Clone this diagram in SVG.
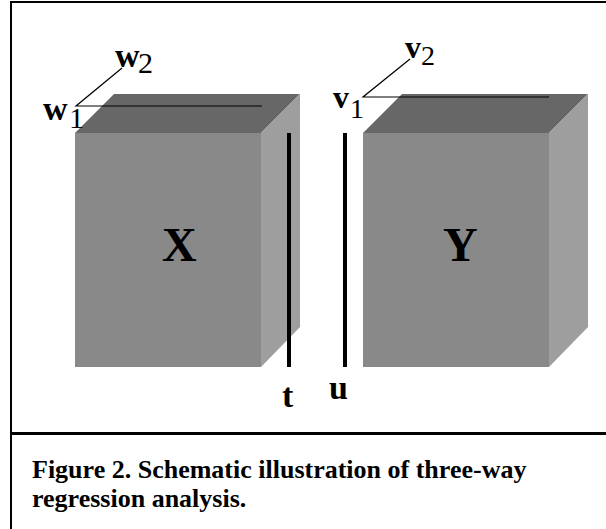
<svg xmlns="http://www.w3.org/2000/svg" width="606" height="529" viewBox="0 0 606 529">
<style>
.front{fill:#898989}
.top{fill:#676767}
.side{fill:#9e9e9e}
.thin{stroke:#000;stroke-width:1.2;fill:none}
.thick{stroke:#000;stroke-width:4;fill:none}
.frame{stroke:#000;fill:none}
.lbl{font-family:"Liberation Serif",serif;font-weight:bold;fill:#000}
.sub{font-family:"Liberation Serif",serif;fill:#000}
</style>
<rect width="606" height="529" fill="#fff"/>
<g id="frame">
<line class="frame" x1="10" y1="2" x2="606" y2="2" stroke-width="2"/>
<line class="frame" x1="11" y1="1" x2="11" y2="529" stroke-width="2"/>
<line class="frame" x1="10" y1="433.5" x2="606" y2="433.5" stroke-width="3"/>
</g>
<g id="boxX">
<polygon class="top" points="75,133 114,94 300,94 261,133"/>
<polygon class="side" points="261,133 300,94 300,327 261,367"/>
<rect class="front" x="75" y="133" width="186" height="234"/>
<text class="lbl" x="162" y="261" font-size="48">X</text>
</g>
<g id="boxY">
<polygon class="top" points="363,133 402,94 588,94 549,133"/>
<polygon class="side" points="549,133 588,94 588,327 549,367"/>
<rect class="front" x="363" y="133" width="186" height="234"/>
<text class="lbl" x="443" y="261" font-size="48">Y</text>
</g>
<g id="connectors">
<polyline class="thin" points="262,106 76,106 122,68"/>
<polyline class="thin" points="549,97 363,97 410,59"/>
<line class="thick" x1="289" y1="133" x2="289" y2="367"/>
<line class="thick" x1="345" y1="133" x2="345" y2="367"/>
</g>
<g id="w1"><text class="lbl" x="43" y="120" font-size="34">w</text><text class="sub" x="69" y="128" font-size="30">1</text></g>
<g id="w2"><text class="lbl" x="115" y="67" font-size="34">w</text><text class="sub" x="138" y="73" font-size="30">2</text></g>
<g id="v1"><text class="lbl" x="333" y="108" font-size="32">v</text><text class="sub" x="350" y="118" font-size="28">1</text></g>
<g id="v2"><text class="lbl" x="405" y="58" font-size="32">v</text><text class="sub" x="421" y="65" font-size="28">2</text></g>
<g id="t"><text class="lbl" x="282" y="407" font-size="34">t</text></g>
<g id="u"><text class="lbl" x="329" y="399" font-size="34">u</text></g>
<g id="caption">
<text class="lbl" x="32" y="478" font-size="26">Figure 2. Schematic illustration of three-way</text>
<text class="lbl" x="32" y="507" font-size="26">regression analysis.</text>
</g>
</svg>
